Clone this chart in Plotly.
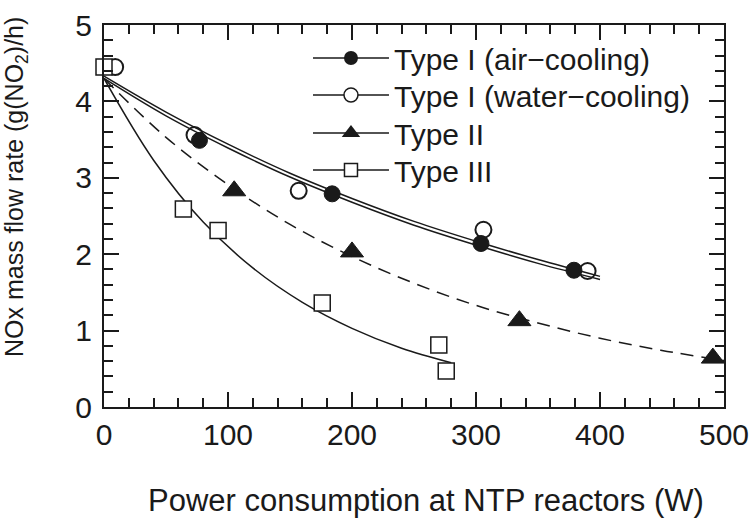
import plotly.graph_objects as go

# Measured data points
air_x = [77, 184, 304, 379]
air_y = [3.49, 2.79, 2.14, 1.79]
water_x = [9, 73, 157, 306, 390]
water_y = [4.45, 3.56, 2.83, 2.32, 1.78]
t2_x = [105, 200, 335, 491]
t2_y = [2.83, 2.03, 1.13, 0.64]
t3_x = [0, 64, 92, 176, 270, 276]
t3_y = [4.45, 2.59, 2.31, 1.36, 0.81, 0.47]

# Fitted curves
fit_air_x = [0, 50, 100, 150, 200, 250, 300, 350, 400]
fit_air_y = [4.30, 3.81, 3.39, 3.01, 2.68, 2.38, 2.12, 1.88, 1.67]
fit_water_x = [0, 50, 100, 150, 200, 250, 300, 350, 400]
fit_water_y = [4.33, 3.86, 3.44, 3.06, 2.73, 2.43, 2.17, 1.93, 1.71]
fit_t2_x = [0, 50, 100, 150, 200, 250, 300, 350, 400, 450, 500]
fit_t2_y = [4.30, 3.53, 2.91, 2.39, 1.97, 1.62, 1.33, 1.10, 0.90, 0.74, 0.61]
fit_t3_x = [0, 40, 80, 120, 160, 200, 240, 280]
fit_t3_y = [4.30, 3.23, 2.42, 1.82, 1.37, 1.03, 0.77, 0.58]

names = ["Type I (air\u2212cooling)", "Type I (water\u2212cooling)", "Type II", "Type III"]
x_title = "Power consumption at NTP reactors (W)"
y_title = "NOx mass flow rate (g(NO<sub>2</sub>)/h)"

FONT = "Arial, 'Liberation Sans', sans-serif"
INK = "#1a1a1a"

fig = go.Figure()

# fit lines
for fx, fy, dash in [(fit_air_x, fit_air_y, "solid"), (fit_water_x, fit_water_y, "solid"),
                     (fit_t2_x, fit_t2_y, "13px,8px"), (fit_t3_x, fit_t3_y, "solid")]:
    fig.add_trace(go.Scatter(x=fx, y=fy, mode="lines", line=dict(color=INK, width=1.5, dash=dash, shape="spline"),
                             showlegend=False, hoverinfo="skip", cliponaxis=False))

markers = [
    (air_x, air_y, dict(symbol="circle", size=16, color=INK, line=dict(color=INK, width=1))),
    (water_x, water_y, dict(symbol="circle-open", size=16, color=INK, line=dict(color=INK, width=2))),
    (t2_x, t2_y, dict(symbol="triangle-up", size=20, color=INK, line=dict(color=INK, width=1))),
    (t3_x, t3_y, dict(symbol="square", size=16, color="white", line=dict(color=INK, width=1.5))),
]
for (mx, my, mk) in markers:
    fig.add_trace(go.Scatter(x=mx, y=my, mode="markers", marker=mk, showlegend=False, cliponaxis=False))

# legend entries (line + marker symbol), one legend per row for exact spacing
leg_markers = [
    dict(symbol="circle", size=14, color=INK),
    dict(symbol="circle", size=14, color="white", line=dict(color=INK, width=1.5)),
    dict(symbol="triangle-up", size=16, color=INK),
    dict(symbol="square", size=13, color="white", line=dict(color=INK, width=1.5)),
]
leg_ids = ["legend", "legend2", "legend3", "legend4"]
for nm, mk, lid in zip(names, leg_markers, leg_ids):
    fig.add_trace(go.Scatter(x=[None], y=[None], mode="lines+markers", name=nm, legend=lid,
                             line=dict(color=INK, width=1.5), marker=mk))

axis_common = dict(
    showline=True, linecolor=INK, linewidth=2, mirror="ticks",
    ticks="inside", ticklen=15, tickwidth=1.5, tickcolor=INK,
    showgrid=False, zeroline=False, automargin=False,
    tickfont=dict(family=FONT, size=30, color=INK),
)

leg_rows_px = [58, 95, 133, 170]   # row centres in pixels
plot_top, plot_bottom = 25, 407
legends = {}
for lid, py in zip(leg_ids, leg_rows_px):
    legends[lid] = dict(x=0.329, y=(plot_bottom - py) / (plot_bottom - plot_top),
                        xanchor="left", yanchor="middle", bgcolor="rgba(0,0,0,0)",
                        font=dict(family=FONT, size=30, color=INK), itemwidth=76)

fig.update_layout(
    width=752, height=518,
    margin=dict(l=104, r=28, t=plot_top, b=518 - plot_bottom),
    paper_bgcolor="white", plot_bgcolor="white",
    font=dict(family=FONT, color=INK),
    xaxis=dict(range=[0, 500], dtick=100, tick0=0,
               minor=dict(dtick=20, ticks="inside", ticklen=9, tickwidth=1.5, tickcolor=INK),
               **axis_common),
    yaxis=dict(range=[0, 5], dtick=1, tick0=0, ticklabelstandoff=4,
               minor=dict(dtick=0.2, ticks="inside", ticklen=9, tickwidth=1.5, tickcolor=INK),
               **axis_common),
    showlegend=True,
    annotations=[
        dict(text=x_title, xref="paper", yref="paper", x=(426 - 104) / 620, y=(407 - 500) / 382,
             xanchor="center", yanchor="middle", showarrow=False,
             font=dict(family=FONT, size=31, color=INK)),
        dict(text=y_title, xref="paper", yref="paper", x=(16 - 104) / 620, y=(407 - 187) / 382,
             xanchor="center", yanchor="middle", showarrow=False, textangle=-90,
             font=dict(family=FONT, size=25, color=INK)),
    ],
    **legends,
)

fig.write_html("out.html")
